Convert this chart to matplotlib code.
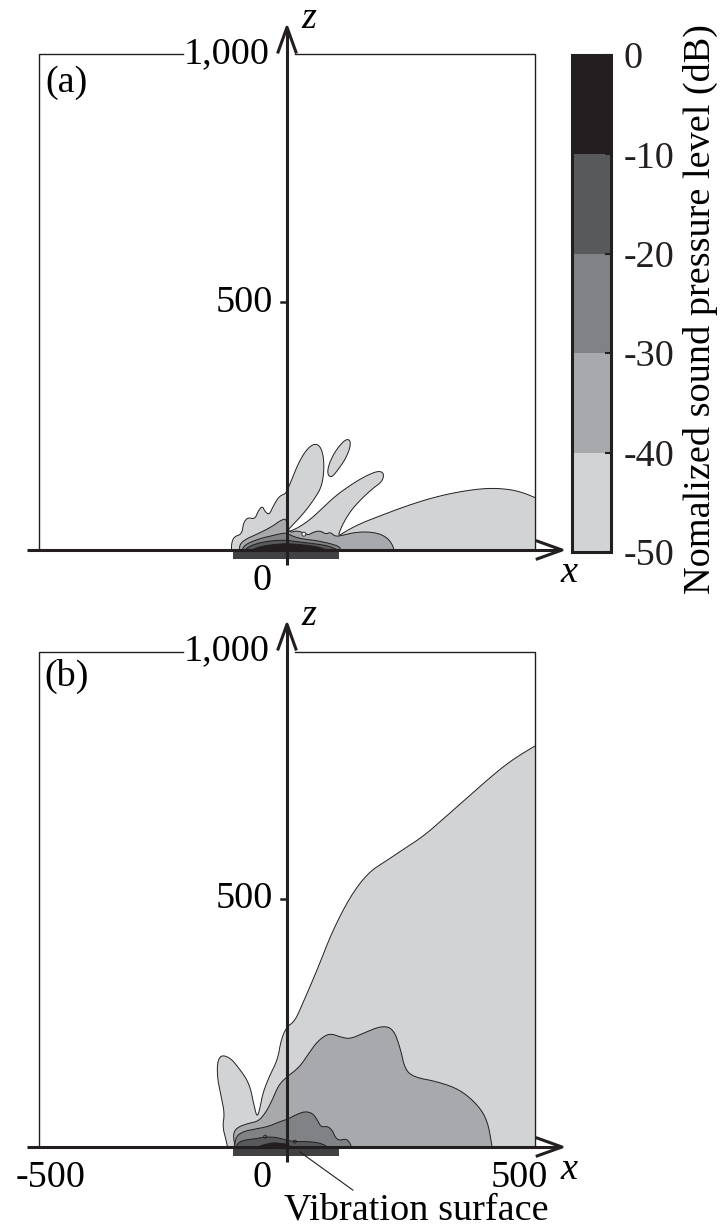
import numpy as np
import matplotlib as mpl
import matplotlib.pyplot as plt
from matplotlib.colors import ListedColormap, BoundaryNorm

plt.rcParams['font.family'] = ['Liberation Serif', 'DejaVu Serif']
FS = 27.5
INK = '#231f20'

# colour levels (dB)
levels = [-50, -40, -30, -20, -10, 0]
level_colors = ['#d1d3d4', '#a7a9ac', '#808285', '#58595b', '#231f20']
cbar_labels = ['-50', '-40', '-30', '-20', '-10', '0']
cbar_title = 'Nomalized sound pressure level (dB)'

# vibration surface (x range)
plate_x = [-108, 104]

# ---- panel (a): contour boundaries (x, z), outer level first
a50_x = [-112, -112, -107, -91, -88, -79, -65, -58, -50, -44, -36, -29, -19, -11, -2, 9, 23, 38,
         53, 65, 73, 75, 70, 56, 36, 16, 3, -2, 9, 26, 50, 73, 100, 134, 164, 186, 196, 192, 174,
         151, 130, 115, 106, 104, 117, 147, 188, 241, 295, 349, 403, 446, 476, 500]
a50_z = [0, 13, 27, 32, 55, 66, 62, 79, 89, 77, 71, 86, 104, 111, 114, 141, 175, 201,
         214, 212, 194, 162, 128, 104, 77, 55, 42, 35, 39, 47, 64, 86, 111, 135, 152, 160, 154, 138, 125,
         104, 81, 57, 37, 28, 37, 53, 69, 89, 106, 118, 125, 123, 116, 106]
a40_x = [-96, -95, -83, -65, -44, -28, -14, -2, 1, 6, 19, 33, 43, 53, 67, 78, 88, 97, 114, 134,
         161, 187, 204, 213, 216]
a40_z = [0, 12, 22, 30, 40, 49, 59, 64, 47, 35, 39, 35, 30, 36, 39, 32, 36, 27, 30, 35,
         37, 33, 23, 10, 0]
a30_x = [-91, -85, -71, -51, -34, -17, -2, 13, 33, 60, 87, 106, 108]
a30_z = [0, 10, 17, 24, 28, 32, 35, 27, 22, 19, 13, 7, 0]
a20_x = [-85, -75, -54, -28, -2, 26, 53, 80, 97, 100]
a20_z = [0, 8, 15, 19, 20, 16, 13, 9, 3, 0]
a10_x = [-71, -54, -28, -2, 26, 53, 73, 80]
a10_z = [0, 7, 11, 13, 11, 8, 3, 0]
# isolated -40..-50 island and a small hole
a_island_x = [82, 83, 93, 107, 120, 128, 127, 117, 103, 90]
a_island_z = [152, 168, 192, 212, 224, 221, 205, 182, 162, 146]
a_holes = [(34, 32, 4)]

# ---- panel (b)
b50_x = [-120, -123, -130, -126, -133, -140, -141, -133, -115, -99, -76, -66, -60, -54, -49, -36,
         -19, -12, -1, 16, 34, 62, 90, 127, 164, 201, 238, 275, 321, 367, 423, 460, 500]
b50_z = [0, 14, 41, 68, 102, 135, 170, 186, 180, 162, 129, 81, 59, 81, 108, 142,
         176, 216, 242, 254, 295, 360, 432, 505, 554, 578, 603, 627, 667, 708, 757, 785, 809]
b40_x = [-105, -109, -100, -77, -58, -44, -31, -17, -1, 25, 44, 62, 85, 108, 127, 155, 192, 215,
         229, 238, 256, 303, 349, 386, 405, 414]
b40_z = [0, 27, 40, 48, 52, 68, 92, 125, 141, 161, 189, 214, 230, 222, 218, 230, 245, 238,
         198, 157, 141, 132, 116, 84, 52, 0]
b30_x = [-106, -103, -89, -66, -39, -15, 1, 18, 36, 52, 62, 69, 82, 92, 97, 105, 120, 128, 130]
b30_z = [0, 21, 31, 36, 41, 51, 56, 65, 72, 68, 53, 40, 42, 33, 20, 13, 17, 6, 0]
b20_x = [-103, -98, -86, -62, -46, -26, -12, 1, 18, 35, 55, 72, 82]
b20_z = [0, 9, 14, 17, 20, 20, 17, 13, 11, 11, 10, 6, 0]
b10_x = [-59, -46, -26, -12, 0, 8]
b10_z = [0, 5, 9, 7, 6, 0]
b_holes = [(-44, 21, 3), (16, 11, 3)]

S = 0.4955  # pixels per data unit (both axes)


def chaikin(x, z, n=2, closed=False):
    pts = np.column_stack([x, z]).astype(float)
    for _ in range(n):
        p = np.vstack([pts, pts[:1]]) if closed else pts
        q = 0.75 * p[:-1] + 0.25 * p[1:]
        r = 0.25 * p[:-1] + 0.75 * p[1:]
        mid = np.empty((2 * len(q), 2))
        mid[0::2] = q
        mid[1::2] = r
        pts = mid if closed else np.vstack([pts[:1], mid, pts[-1:]])
    return pts[:, 0], pts[:, 1]


def make_axes(fig, top_px, bot_px, zero_px):
    ax = fig.add_axes([0, 1 - bot_px / 1229, 1, (bot_px - top_px) / 1229])
    ax.set_xlim(-287 / S, (720 - 287) / S)
    ax.set_ylim((zero_px - bot_px) / S, (zero_px - top_px) / S)
    ax.set_autoscale_on(False)
    ax.axis('off')
    return ax


def draw_level(ax, x, z, color, zo):
    sx, sz = chaikin(x, z)
    px = np.append(sx, sx[-1])
    pz = np.append(sz, 0)
    ax.fill(px, pz, color=color, lw=0, zorder=zo)
    ax.plot(sx, sz, color=INK, lw=0.7, zorder=zo + 0.1)


def draw_frame(ax, tick_labels_x):
    # box (top edge broken by the 1,000 label)
    ax.plot([-500, -500, -210], [0, 1000, 1000], color=INK, lw=1.0, zorder=6)
    ax.plot([16, 500, 500], [1000, 1000, 0], color=INK, lw=1.0, zorder=6)
    # axes with open arrow heads
    ax.plot([-525, 553], [0, 0], color=INK, lw=2.2, zorder=8, solid_capstyle='butt')
    ax.plot([505, 555, 505], [18, 0, -18], color=INK, lw=2.2, zorder=8)
    ax.plot([0, 0], [-30, 1053], color=INK, lw=2.2, zorder=8, solid_capstyle='butt')
    ax.plot([-18, 0, 18], [1005, 1055, 1005], color=INK, lw=2.2, zorder=8)
    ax.plot([-12, 0], [500, 500], color=INK, lw=1.8, zorder=8)
    # vibration surface
    ax.fill([plate_x[0], plate_x[1], plate_x[1], plate_x[0]], [-3, -3, -18, -18],
            color='#414042', lw=0, zorder=7)
    ax.text(-36, 1002, '1,000', fontsize=FS, ha='right', va='center')
    ax.text(-28, 500, '500', fontsize=FS, ha='right', va='center')
    for xl, s in tick_labels_x:
        ax.text(xl, -62, s, fontsize=FS, ha='center', va='center')
    ax.text(570, -45, 'x', fontsize=FS, style='italic', ha='center', va='center')
    ax.text(44, 1072, 'z', fontsize=FS, style='italic', ha='center', va='center')


fig = plt.figure(figsize=(7.2, 12.29), dpi=100)

# panel (a)
ax_a = make_axes(fig, 0, 614, 550)
for (x, z), c, zo in zip([(a50_x, a50_z), (a40_x, a40_z), (a30_x, a30_z),
                          (a20_x, a20_z), (a10_x, a10_z)], level_colors, range(1, 6)):
    draw_level(ax_a, x, z, c, zo)
ix, iz = chaikin(a_island_x, a_island_z, closed=True)
ax_a.fill(ix, iz, color=level_colors[0], ec=INK, lw=0.7, zorder=1.2)
for hx, hz, r in a_holes:
    t = np.linspace(0, 2 * np.pi, 40)
    ax_a.fill(hx + r * np.cos(t), hz + r * np.sin(t), color='white', ec=INK, lw=0.6, zorder=5.5)
draw_frame(ax_a, [(-50, '0')])
ax_a.text(-446, 943, '(a)', fontsize=FS, ha='center', va='center')

# panel (b)
ax_b = make_axes(fig, 614, 1229, 1147)
for (x, z), c, zo in zip([(b50_x, b50_z), (b40_x, b40_z), (b30_x, b30_z),
                          (b20_x, b20_z), (b10_x, b10_z)], level_colors, range(1, 6)):
    draw_level(ax_b, x, z, c, zo)
for hx, hz, r in b_holes:
    t = np.linspace(0, 2 * np.pi, 40)
    ax_b.plot(hx + r * np.cos(t), hz + r * np.sin(t), color=INK, lw=0.6, zorder=5.5)
draw_frame(ax_b, [(-478, '-500'), (-50, '0'), (468, '500')])
ax_b.text(-444, 949, '(b)', fontsize=FS, ha='center', va='center')
ax_b.plot([26, 133], [-10, -87], color=INK, lw=0.8, zorder=9)
ax_b.text(260, -127, 'Vibration surface', fontsize=FS, ha='center', va='center')

# colour bar
cax = fig.add_axes([572 / 720, 1 - 552 / 1229, 39 / 720, 497 / 1229])
cmap = ListedColormap(level_colors)
norm = BoundaryNorm(levels, cmap.N)
cb = fig.colorbar(mpl.cm.ScalarMappable(norm=norm, cmap=cmap), cax=cax, ticks=levels)
cb.ax.set_yticklabels(cbar_labels)
cb.outline.set_linewidth(2.2)
cb.outline.set_edgecolor(INK)
cb.ax.tick_params(length=4, width=1.5, direction='in', labelsize=FS, pad=9, colors=INK)
fig.text(700 / 720, 1 - 309 / 1229, cbar_title, rotation=90, fontsize=FS,
         ha='center', va='center')

fig.savefig('out.png', dpi=100)
